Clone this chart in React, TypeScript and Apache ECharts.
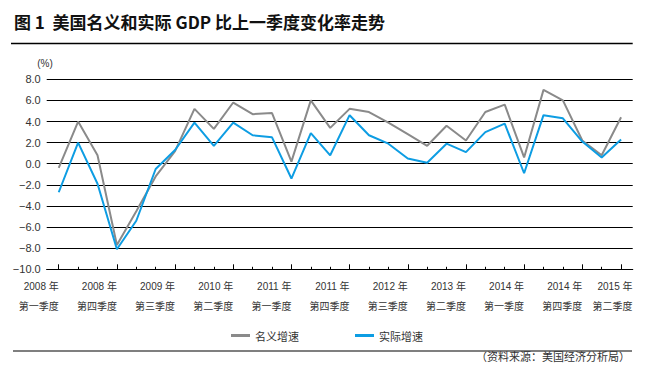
import React, { useEffect, useRef } from "react";
import * as echarts from "echarts";

const quarters: string[] = [
  "2008 年\n第一季度", "2008 年\n第二季度", "2008 年\n第三季度", "2008 年\n第四季度",
  "2009 年\n第一季度", "2009 年\n第二季度", "2009 年\n第三季度", "2009 年\n第四季度",
  "2010 年\n第一季度", "2010 年\n第二季度", "2010 年\n第三季度", "2010 年\n第四季度",
  "2011 年\n第一季度", "2011 年\n第二季度", "2011 年\n第三季度", "2011 年\n第四季度",
  "2012 年\n第一季度", "2012 年\n第二季度", "2012 年\n第三季度", "2012 年\n第四季度",
  "2013 年\n第一季度", "2013 年\n第二季度", "2013 年\n第三季度", "2013 年\n第四季度",
  "2014 年\n第一季度", "2014 年\n第二季度", "2014 年\n第三季度", "2014 年\n第四季度",
  "2015 年\n第一季度", "2015 年\n第二季度",
];

const nominalGrowth: number[] = [
  -0.4, 4.0, 0.8, -7.7, -4.5, -1.2, 1.2, 5.2, 3.3, 5.8,
  4.7, 4.8, 0.2, 6.0, 3.4, 5.2, 4.9, 3.9, 2.8, 1.7,
  3.6, 2.2, 4.9, 5.6, 0.6, 7.0, 6.0, 2.2, 0.8, 4.4,
];

const realGrowth: number[] = [
  -2.7, 2.0, -1.9, -8.1, -5.4, -0.5, 1.3, 3.9, 1.7, 3.9,
  2.7, 2.5, -1.4, 2.9, 0.8, 4.6, 2.7, 1.9, 0.5, 0.1,
  1.9, 1.1, 3.0, 3.8, -0.9, 4.6, 4.3, 2.1, 0.6, 2.3,
];

const seriesNames: string[] = ["名义增速", "实际增速"];
const majorTickIndex: number[] = [0, 3, 6, 9, 12, 15, 18, 21, 24, 27, 29];
const titleText = "图 1  美国名义和实际 GDP 比上一季度变化率走势";
const sourceText = "（资料来源：美国经济分析局）";

const FONT = "'Liberation Sans', 'Noto Sans CJK SC', sans-serif";
const CJK = "'Noto Sans CJK SC', sans-serif";

export default function App() {
  const ref = useRef<HTMLDivElement>(null);
  useEffect(() => {
    if (!ref.current) return;
    const chart = echarts.init(ref.current, null, { renderer: "svg" });
    const xMin = -0.62;
    const xMax = 29.6;
    const lastIdx = quarters.length - 1;
    const minorTicks = quarters.map((_, i) => i).filter((i) => majorTickIndex.indexOf(i) < 0);
    const labelPositions = majorTickIndex.map((i) => (i === lastIdx ? xMax - 0.01 : i));
    const labelFor = (v: number) => {
      const i = Math.min(lastIdx, Math.round(v));
      return quarters[i];
    };
    chart.setOption({
      animation: false,
      title: {
        text: titleText,
        left: 9,
        top: 8,
        textStyle: { fontSize: 17, fontWeight: "bold", color: "#111", fontFamily: CJK },
      },
      legend: {
        left: 226,
        top: 325,
        itemGap: 56,
        itemWidth: 19,
        itemHeight: 3,
        icon: "rect",
        textStyle: { fontSize: 11, color: "#333", fontFamily: CJK },
        data: seriesNames,
      },
      grid: { left: 46.7, right: 30.3, top: 79.3, bottom: 116.7 },
      xAxis: [
        {
          type: "value",
          min: xMin,
          max: xMax,
          position: "bottom",
          axisLine: { show: true, onZero: false, lineStyle: { color: "#000", width: 1.2 } },
          axisTick: {
            show: true,
            inside: true,
            length: 5,
            customValues: majorTickIndex,
            lineStyle: { color: "#000", width: 1 },
          },
          axisLabel: {
            show: true,
            customValues: labelPositions,
            formatter: (v: number) => labelFor(v),
            align: "right",
            margin: 7,
            lineHeight: 20,
            fontSize: 10,
            color: "#333",
            fontFamily: FONT,
          },
          splitLine: { show: false },
        },
        {
          type: "value",
          min: xMin,
          max: xMax,
          position: "bottom",
          axisLine: { show: false, onZero: false },
          axisTick: {
            show: true,
            inside: true,
            length: 2.5,
            customValues: minorTicks,
            lineStyle: { color: "#000", width: 1 },
          },
          axisLabel: { show: false },
          splitLine: { show: false },
        },
      ],
      yAxis: {
        type: "value",
        min: -10,
        max: 8,
        interval: 2,
        name: "(%)",
        nameLocation: "end",
        nameGap: 11,
        nameTextStyle: { align: "right", padding: [0, 6, 0, 0], fontSize: 10, color: "#333", fontFamily: FONT },
        axisLine: { show: false },
        axisTick: { show: false },
        axisLabel: {
          margin: 6,
          fontSize: 11,
          color: "#333",
          fontFamily: FONT,
          formatter: (v: number) => (v < 0 ? "\u2212" + Math.abs(v).toFixed(1) : v.toFixed(1)),
        },
        splitLine: { show: true, lineStyle: { color: "#000", width: 1.2 } },
      },
      series: [
        {
          name: seriesNames[0],
          type: "line",
          xAxisIndex: 0,
          symbol: "none",
          data: nominalGrowth.map((v, i) => [i, v]),
          lineStyle: { color: "#8a8a8a", width: 2 },
          itemStyle: { color: "#8a8a8a" },
          z: 3,
        },
        {
          name: seriesNames[1],
          type: "line",
          xAxisIndex: 0,
          symbol: "none",
          data: realGrowth.map((v, i) => [i, v]),
          lineStyle: { color: "#0d9de3", width: 2 },
          itemStyle: { color: "#0d9de3" },
          z: 4,
        },
      ],
      graphic: [
        {
          type: "line",
          shape: { x1: 11, y1: 43.5, x2: 632.7, y2: 43.5 },
          style: { stroke: "#000", lineWidth: 1.5 },
        },
        {
          type: "line",
          shape: { x1: 13, y1: 351, x2: 632, y2: 351 },
          style: { stroke: "#000", lineWidth: 1.2 },
        },
        {
          type: "text",
          right: 33,
          top: 350,
          style: { text: sourceText, fontSize: 11, fill: "#333", fontFamily: CJK },
        },
      ],
    });
    return () => chart.dispose();
  }, []);
  return (
    <div
      ref={ref}
      style={{ position: "absolute", left: 0, top: 0, width: 663, height: 386, background: "#fff" }}
    />
  );
}
